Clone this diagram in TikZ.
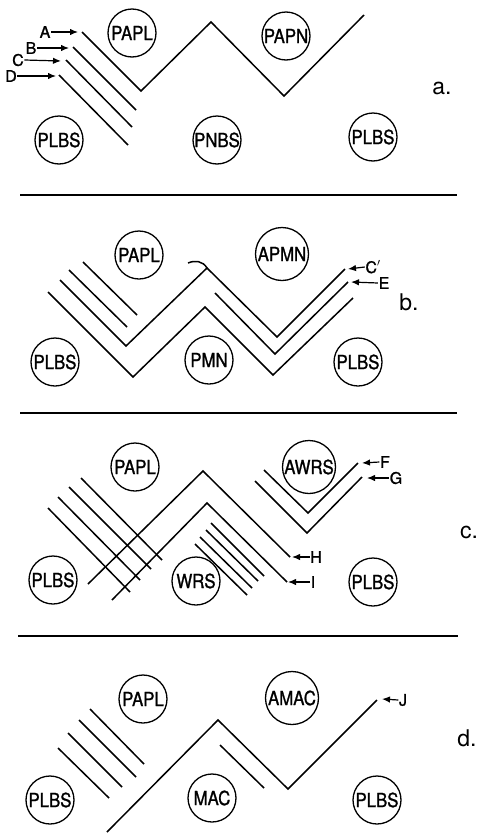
\documentclass[tikz,border=0pt]{standalone}
\usepackage{fontspec}
\setmainfont{TeX Gyre Heros}
\newfontfamily\cellfont[FakeStretch=0.86,FakeBold=1.2]{TeX Gyre Heros}
\newfontfamily\tagfont[FakeBold=1.2]{TeX Gyre Heros}
\usetikzlibrary{arrows.meta}
\begin{document}
\begin{tikzpicture}[x=1pt,y=-1pt,
  ln/.style={line width=1.5pt, line join=miter},
  cell/.style={draw, circle, line width=1.3pt, minimum size=48pt, inner sep=0pt, font=\cellfont\fontsize{19.5}{19.5}\selectfont},
  bigcell/.style={cell, minimum size=53pt},
  tag/.style={inner sep=0.5pt, font=\tagfont\fontsize{16}{16}\selectfont},
  panel/.style={inner sep=0pt, font=\fontsize{23}{23}\selectfont},
  arr/.style={line width=1.2pt, -{Latex[length=8pt,width=6.5pt]}},
  sep/.style={line width=1.3pt}]
\useasboundingbox (0,0) rectangle (480,833);

% ---------------- panel a ----------------
\node[cell] (aPAPL) at (132,33) {PAPL};
\node[cell] (aPAPN) at (286,36) {PAPN};
\node[cell] (aPLBS1) at (59,140) {PLBS};
\node[cell] (aPNBS) at (217,140) {PNBS};
\node[cell] (aPLBS2) at (373,137) {PLBS};
\draw[ln] (82,32) -- (141,91) -- (211,22) -- (284,96) -- (364,15);
\draw[ln] (73,47) -- (136,110);
\draw[ln] (66,60) -- (132,127);
\draw[ln] (59,75) -- (128,145);
\node[tag] (lA) at (45,32) {A};
\node[tag] (lB) at (31,48) {B};
\node[tag] (lC) at (18,60) {C};
\node[tag] (lD) at (11,76) {D};
\coordinate (hA) at (78,32);
\coordinate (hB) at (69,48);
\coordinate (hC) at (61,61);
\coordinate (hD) at (56,76);
\draw[arr] (lA.east) -- (hA);
\draw[arr] (lB.east) -- (hB);
\draw[arr] (lC.east) -- (hC);
\draw[arr] (lD.east) -- (hD);
\node[panel] (pa) at (442,88) {a.};
\draw[sep] (20,195) -- (457,195);

% ---------------- panel b ----------------
\node[cell] (bPAPL) at (139,255) {PAPL};
\node[bigcell] (bAPMN) at (282,254) {APMN};
\node[cell] (bPLBS1) at (55,362) {PLBS};
\node[cell] (bPMN) at (209,360) {PMN};
\node[cell] (bPLBS2) at (358,362) {PLBS};
\draw[ln] (83,262) -- (137,315);
\draw[ln] (69,270) -- (127,327);
\draw[ln] (60,280) -- (126,346) -- (207,268) -- (277,337) -- (345,269);
\draw[ln] (207,268) .. controls (203,261) and (195,260) .. (188,263);
\draw[ln] (48,292) -- (133,377) -- (205,307) -- (273,375) -- (353,298);
\draw[ln] (215,293) -- (275,354) -- (348,282);
\node[tag] (lCp) at (373,267) {C$'$};
\node[tag] (lE) at (384,283) {E};
\coordinate (hCp) at (348,269);
\coordinate (hE) at (351,282);
\draw[arr] (lCp.west) -- (hCp);
\draw[arr] (lE.west) -- (hE);
\node[panel] (pb) at (409,302) {b.};
\draw[sep] (20,413) -- (457,413);

% ---------------- panel c ----------------
\node[cell] (cPAPL) at (135,467) {PAPL};
\node[bigcell] (cAWRS) at (309,467) {AWRS};
\node[cell] (cPLBS1) at (53,580) {PLBS};
\node[cell] (cWRS) at (196,581) {WRS};
\node[cell] (cPLBS2) at (373,582) {PLBS};
\draw[ln] (81,478) -- (162,560);
\draw[ln] (69,487) -- (151,569);
\draw[ln] (58,497) -- (140,580);
\draw[ln] (48,508) -- (130,592);
\draw[ln] (88,584) -- (203,471) -- (290,557);
\draw[ln] (112,600) -- (207,503) -- (287,582);
\draw[ln] (211,523) -- (264,576);
\draw[ln] (206,530) -- (258,581);
\draw[ln] (200,537) -- (252,588);
\draw[ln] (195,544) -- (247,595);
\draw[ln] (264,470) -- (308,513) -- (358,463);
\draw[ln] (255,481) -- (307,533) -- (362,477);
\node[tag] (lF) at (385,462) {F};
\node[tag] (lG) at (396,478) {G};
\node[tag] (lH) at (316,557) {H};
\node[tag] (lI) at (313,582) {I};
\coordinate (hF) at (362,463);
\coordinate (hG) at (367,478);
\coordinate (hH) at (292,557);
\coordinate (hI) at (288,582);
\draw[arr] (lF.west) -- (hF);
\draw[arr] (lG.west) -- (hG);
\draw[arr] (lH.west) -- (hH);
\draw[arr] (lI.west) -- (hI);
\node[panel] (pc) at (469,532) {c.};
\draw[sep] (18,636) -- (458,636);

% ---------------- panel d ----------------
\node[cell] (dPAPL) at (143,699) {PAPL};
\node[bigcell] (dAMAC) at (292,698) {AMAC};
\node[cell] (dPLBS1) at (50,800) {PLBS};
\node[cell] (dMAC) at (212,798) {MAC};
\node[cell] (dPLBS2) at (377,800) {PLBS};
\draw[ln] (90,709) -- (144,764);
\draw[ln] (79,720) -- (136,777);
\draw[ln] (68,733) -- (122,787);
\draw[ln] (58,748) -- (109,798);
\draw[ln] (107,832) -- (218,720) -- (288,789) -- (377,700);
\draw[ln] (220,745) -- (264,788);
\node[tag] (lJ) at (403,700) {J};
\coordinate (hJ) at (382,699);
\draw[arr] (lJ.west) -- (hJ);
\node[panel] (pd) at (467,738) {d.};
\end{tikzpicture}
\end{document}
